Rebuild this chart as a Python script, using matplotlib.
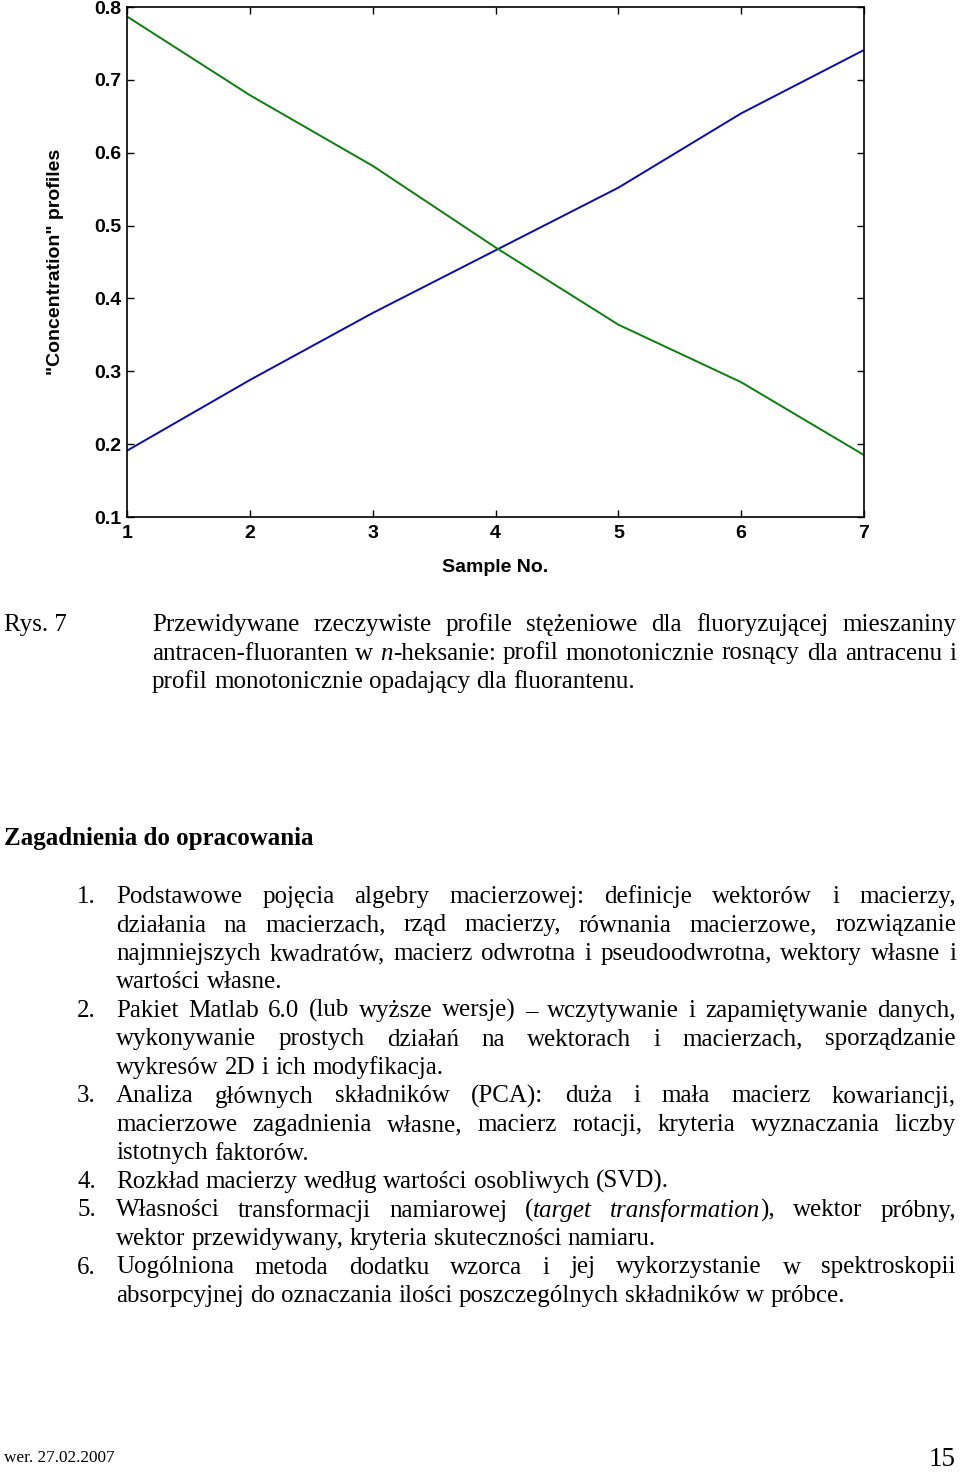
import matplotlib
matplotlib.use("Agg")
import matplotlib.pyplot as plt
from matplotlib.font_manager import FontProperties

W, H = 960, 1476

# chart data
samples = [1, 2, 3, 4, 5, 6, 7]
antracen = [0.191, 0.288, 0.380, 0.466, 0.552, 0.654, 0.741]
fluoranten = [0.787, 0.679, 0.582, 0.470, 0.364, 0.285, 0.185]
yticks = [0.1, 0.2, 0.3, 0.4, 0.5, 0.6, 0.7, 0.8]

caption_label = "Rys. 7"
caption_lines = [
    "Przewidywane rzeczywiste profile stężeniowe dla fluoryzującej mieszaniny",
    "antracen-fluoranten w _n_-heksanie: profil monotonicznie rosnący dla antracenu i",
    "profil monotonicznie opadający dla fluorantenu.",
]
heading = "Zagadnienia do opracowania"
# (number, lines) - "_" marks italic parts within a word
items = [
    ("1.", ["Podstawowe pojęcia algebry macierzowej: definicje wektorów i macierzy,",
            "działania na macierzach, rząd macierzy, równania macierzowe, rozwiązanie",
            "najmniejszych kwadratów, macierz odwrotna i pseudoodwrotna, wektory własne i",
            "wartości własne."]),
    ("2.", ["Pakiet Matlab 6.0 (lub wyższe wersje) – wczytywanie i zapamiętywanie danych,",
            "wykonywanie prostych działań na wektorach i macierzach, sporządzanie",
            "wykresów 2D i ich modyfikacja."]),
    ("3.", ["Analiza głównych składników (PCA): duża i mała macierz kowariancji,",
            "macierzowe zagadnienia własne, macierz rotacji, kryteria wyznaczania liczby",
            "istotnych faktorów."]),
    ("4.", ["Rozkład macierzy według wartości osobliwych (SVD)."]),
    ("5.", ["Własności transformacji namiarowej (_target_ _transformation_), wektor próbny,",
            "wektor przewidywany, kryteria skuteczności namiaru."]),
    ("6.", ["Uogólniona metoda dodatku wzorca i jej wykorzystanie w spektroskopii",
            "absorpcyjnej do oznaczania ilości poszczególnych składników w próbce."]),
]
footer_left = "wer. 27.02.2007"
footer_right = "15"

fig = plt.figure(figsize=(W / 100, H / 100), dpi=100)
fig.patch.set_facecolor("white")

# ---- chart ----
ax = fig.add_axes([127 / W, 1 - 517 / H, (864 - 127) / W, (517 - 7) / H])
ax.plot(samples, antracen, color="#0a0ab4", lw=1.4)
ax.plot(samples, fluoranten, color="#0a800a", lw=1.4)
ax.set_xlim(1, 7)
ax.set_ylim(0.1, 0.8)
ax.set_xticks(samples)
ax.set_yticks(yticks)
ax.set_yticklabels(["%.1f" % v for v in yticks])
ax.tick_params(direction="in", length=5, width=1.0, top=True, right=True,
               labelsize=14, colors="black")
ax.tick_params(axis="x", pad=6)
ax.tick_params(axis="y", pad=4)
for lab in ax.get_xticklabels() + ax.get_yticklabels():
    lab.set_fontfamily("Liberation Sans")
    lab.set_fontweight("bold")
for sp in ax.spines.values():
    sp.set_linewidth(1.2)
ax.set_xlabel("Sample No.", fontsize=14, fontweight="bold", family="Liberation Sans", labelpad=12)
ax.set_ylabel('"Concentration" profiles', fontsize=14, fontweight="bold",
              family="Liberation Sans", labelpad=22)

# ---- page text ----
renderer = fig.canvas.get_renderer()
SERIF = "Liberation Serif"


def fx(x):
    return x / W


def fy(y):
    return 1 - y / H


def segments(word):
    parts = word.split("_")
    return [(p, i % 2 == 1) for i, p in enumerate(parts) if p]


def seg_width(text, italic, size, weight="normal"):
    fp = FontProperties(family=SERIF, size=size, style="italic" if italic else "normal", weight=weight)
    w, h, d = renderer.get_text_width_height_descent(text, fp, ismath=False)
    return w


def word_width(word, size):
    return sum(seg_width(t, it, size) for t, it in segments(word))


def draw_word(x, y, word, size):
    for t, it in segments(word):
        fig.text(fx(x), fy(y), t, fontsize=size, family=SERIF,
                 style="italic" if it else "normal", va="baseline", ha="left")
        x += seg_width(t, it, size)


def draw_line(line, x0, x1, y, size, justify):
    words = line.split(" ")
    widths = [word_width(w, size) for w in words]
    if justify and len(words) > 1:
        gap = (x1 - x0 - sum(widths)) / (len(words) - 1)
    else:
        gap = seg_width(" ", False, size)
    x = x0
    for w, wd in zip(words, widths):
        draw_word(x, y, w, size)
        x += wd + gap


size = 18
fig.text(fx(4), fy(631), caption_label, fontsize=size, family=SERIF, va="baseline")
cap_base = [631, 659.5, 688]
for i, line in enumerate(caption_lines):
    draw_line(line, 152, 956, cap_base[i], size, i < len(caption_lines) - 1)

fig.text(fx(4), fy(845), heading, fontsize=size, family=SERIF, weight="bold", va="baseline")

k = 0
for num, lines in items:
    y = 903 + 28.5 * k
    fig.text(fx(96), fy(y), num, fontsize=size, family=SERIF, va="baseline", ha="right")
    for j, line in enumerate(lines):
        y = 903 + 28.5 * k
        draw_line(line, 116, 956, y, size, j < len(lines) - 1)
        k += 1

fig.text(fx(4), fy(1462), footer_left, fontsize=12.4, family=SERIF, va="baseline")
fig.text(fx(956), fy(1466), footer_right, fontsize=19.5, family=SERIF, va="baseline", ha="right")

fig.savefig("out.png", dpi=100, facecolor="white")
